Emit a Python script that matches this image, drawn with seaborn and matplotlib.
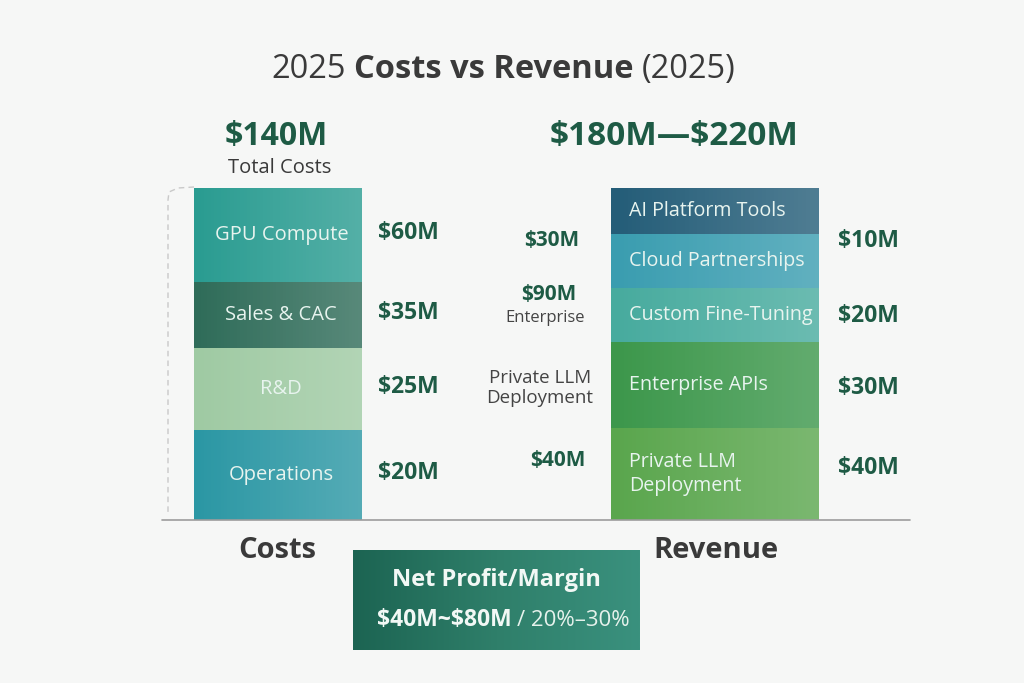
import numpy as np
import matplotlib.pyplot as plt
import seaborn as sns
from matplotlib.colors import LinearSegmentedColormap
from matplotlib.lines import Line2D

W, H = 1024, 683

# ---- data ----
cost_labels = ["Operations", "R&D", "Sales & CAC", "GPU Compute"]  # bottom -> top
cost_values = ["$20M", "$25M", "$35M", "$60M"]
cost_heights = [90, 82, 66, 94]  # segment sizes as drawn in the picture
cost_colors = ["#2b97a4", "#9fcaa3", "#2f6c59", "#2a9c91"]
cost_total = "$140M"

rev_labels = ["Private LLM\nDeployment", "Enterprise APIs", "Custom Fine-Tuning",
              "Cloud Partnerships", "AI Platform Tools"]
rev_values = ["$40M", "$30M", "$20M", "$10M", ""]
rev_heights = [92, 86, 54, 54, 46]
rev_colors = ["#5aa64d", "#3c974b", "#47ab9e", "#3a9db0", "#245d78"]
rev_value_anchor = [0.56, 0.47, 0.48, 0.87, 0.5]  # where the value sits within its segment
rev_total = "$180M\u2014$220M"

# callouts between the two bars: (text, bold, size, x, y)
mid_callouts = [
    ("$30M", True, 15, 552, 240),
    ("$90M", True, 15, 549, 295),
    ("Enterprise", False, 12, 545, 318),
    ("Private LLM\nDeployment", False, 13.5, 540, 388),
    ("$40M", True, 15, 558, 461),
]

VAL_COLOR = "#1e5b45"
DARK = "#3a3a3a"

sns.set_theme(style="white")
plt.rcParams["font.family"] = ["Open Sans", "DejaVu Sans"]
plt.rcParams["text.parse_math"] = False


def fx(x):
    return x / W


def fy(y):
    return 1 - y / H


fig = plt.figure(figsize=(W / 100, H / 100), dpi=100)
fig.patch.set_facecolor("#f6f7f6")

white_fade = np.zeros((1, 256, 4))
white_fade[..., :3] = 1
white_fade[..., 3] = np.linspace(0.0, 0.2, 256)


def stacked(ax, name, heights, colors):
    tops = np.cumsum(heights)
    for top, col in sorted(zip(tops, colors), reverse=True):
        sns.barplot(x=[name], y=[top], color=col, width=1, saturation=1,
                    errorbar=None, edgecolor="none", linewidth=0, ax=ax)
    ax.imshow(white_fade, extent=[-0.5, 0.5, 0, tops[-1]], aspect="auto", zorder=3)
    ax.set_xlim(-0.5, 0.5)
    ax.set_ylim(0, tops[-1])
    ax.axis("off")
    bottoms = tops - np.array(heights)
    return bottoms


# costs bar
ax_c = fig.add_axes([fx(194), fy(520), 168 / W, 332 / H])
c_bottoms = stacked(ax_c, "Costs", cost_heights, cost_colors)
tr = ax_c.get_yaxis_transform()
for lab, val, b, h in zip(cost_labels, cost_values, c_bottoms, cost_heights):
    mid = b + h / 2
    ax_c.text(0.52, mid, lab, transform=tr, ha="center", va="center",
              color="#e8f4ef", fontsize=14.5, zorder=5)
    ax_c.text(1.095, mid + 2, val, transform=tr, ha="left", va="center",
              color=VAL_COLOR, fontsize=16.5, fontweight="bold", clip_on=False)

# revenue bar
ax_r = fig.add_axes([fx(611), fy(520), 208 / W, 332 / H])
r_bottoms = stacked(ax_r, "Revenue", rev_heights, rev_colors)
tr = ax_r.get_yaxis_transform()
for lab, val, b, h, a in zip(rev_labels, rev_values, r_bottoms, rev_heights, rev_value_anchor):
    ax_r.text(0.087, b + h / 2, lab, transform=tr, ha="left", va="center",
              color="#e8f4ef", fontsize=14.2, linespacing=1.25, zorder=5)
    if val:
        ax_r.text(1.09, b + h * a, val, transform=tr, ha="left", va="center",
                  color=VAL_COLOR, fontsize=16.5, fontweight="bold", clip_on=False)

# baseline and dashed bracket
fig.add_artist(Line2D([fx(162), fx(910)], [fy(520), fy(520)], color="#9c9c9c", lw=1.2))
bx = [194, 178, 169, 168, 168]
by = [187, 188, 192, 200, 516]
fig.add_artist(Line2D([fx(v) for v in bx], [fy(v) for v in by], color="#c9c9c9",
                      lw=1, ls=(0, (4, 3))))

# title
mid_t = fig.text(fx(494), fy(86), "Costs vs Revenue", ha="center", va="bottom",
                 fontsize=23.5, fontweight="bold", color=DARK)
plt.annotate("2025", xy=(0, 0), xycoords=mid_t, xytext=(-6, 0), textcoords="offset points",
             ha="right", va="bottom", fontsize=23.5, color=DARK)
plt.annotate("(2025)", xy=(1, 0), xycoords=mid_t, xytext=(6, 0), textcoords="offset points",
             ha="left", va="bottom", fontsize=23.5, color=DARK)

# totals
fig.text(fx(276), fy(136), cost_total, ha="center", va="center",
         fontsize=23, fontweight="bold", color=VAL_COLOR)
fig.text(fx(280), fy(168), "Total Costs", ha="center", va="center", fontsize=14.5, color=DARK)
fig.text(fx(674), fy(137), rev_total, ha="center", va="center",
         fontsize=24, fontweight="bold", color=VAL_COLOR)

for txt, bold, size, x, y in mid_callouts:
    fig.text(fx(x), fy(y), txt, ha="center", va="center", fontsize=size,
             fontweight="bold" if bold else "normal",
             color=VAL_COLOR if bold else "#444444", linespacing=1.1)

# category names
fig.text(fx(277), fy(550), "Costs", ha="center", va="center",
         fontsize=21, fontweight="bold", color=DARK)
fig.text(fx(716), fy(550), "Revenue", ha="center", va="center",
         fontsize=21, fontweight="bold", color=DARK)

# net profit box
ax_b = fig.add_axes([fx(353), fy(650), 287 / W, 100 / H])
box_cmap = LinearSegmentedColormap.from_list("box", ["#1c6452", "#2f7f6a", "#3a917e"])
ax_b.imshow(np.linspace(0, 1, 256)[None, :], cmap=box_cmap, aspect="auto",
            extent=[0, 1, 0, 1])
ax_b.set_xlim(0, 1)
ax_b.set_ylim(0, 1)
ax_b.axis("off")
ax_b.text(0.5, 0.70, "Net Profit/Margin", ha="center", va="center",
          fontsize=17, fontweight="bold", color="#f2f8f5")
ax_b.text(0.552, 0.30, "$40M~$80M", ha="right", va="center",
          fontsize=16.5, fontweight="bold", color="#f2f8f5")
ax_b.text(0.571, 0.30, "/ 20%\u201330%", ha="left", va="center",
          fontsize=16, color="#e6f2ec")

fig.savefig("out.png", dpi=100, facecolor=fig.get_facecolor())
plt.close(fig)
